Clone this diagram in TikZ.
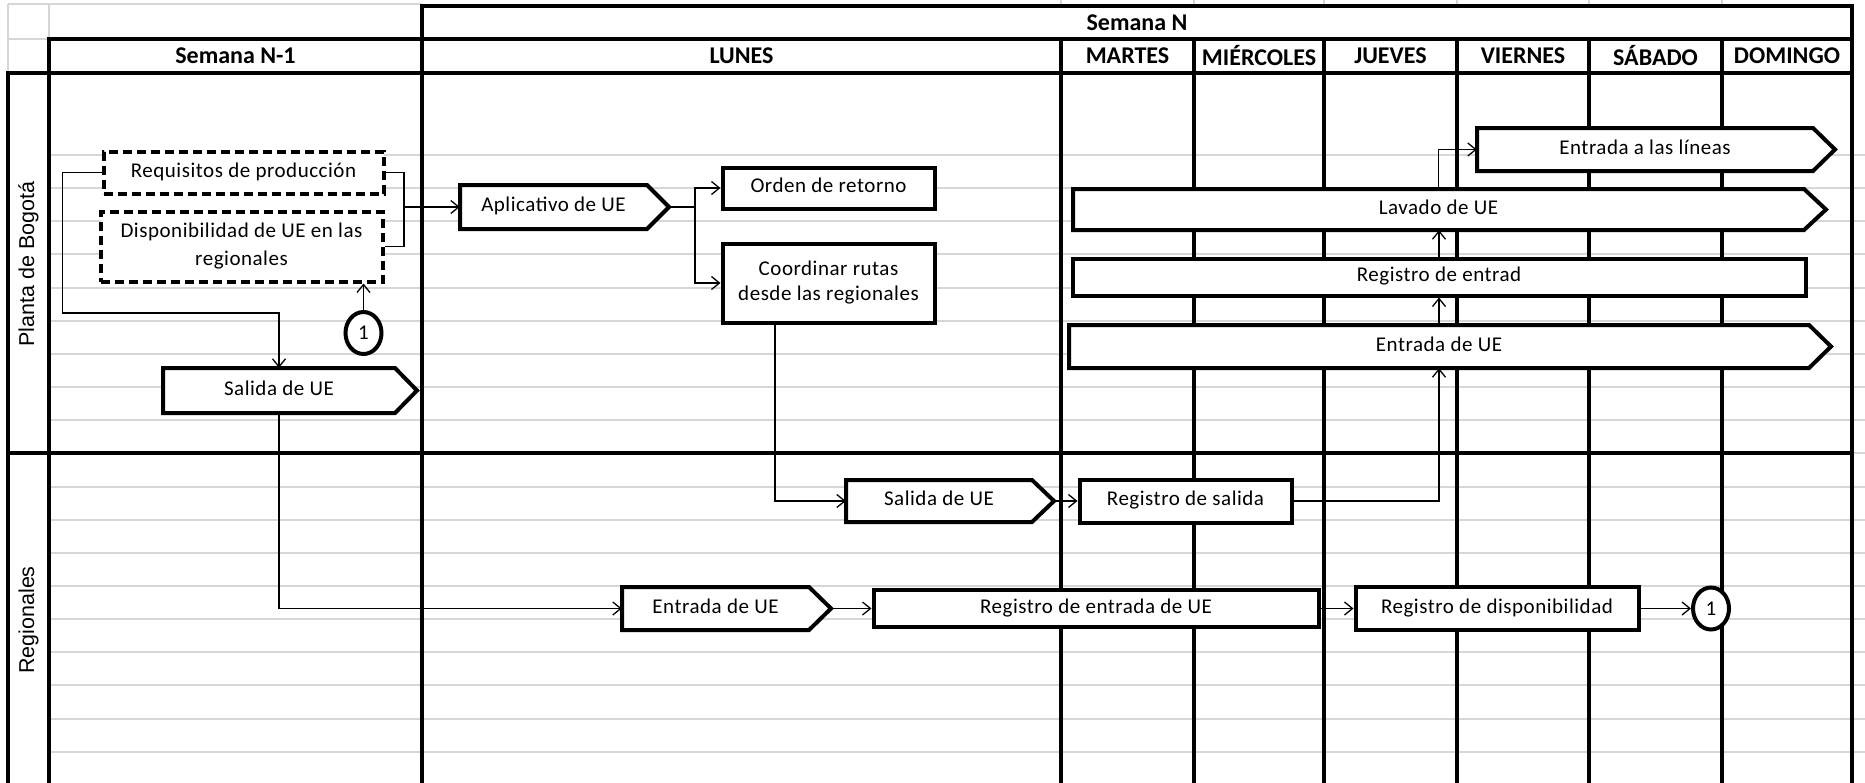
\documentclass[tikz,border=0pt]{standalone}
\usepackage{fontspec}
\setmainfont{Carlito}
\newfontfamily\boxfam{Carlito}[LetterSpace=2.5]
\newfontfamily\lanefam{Liberation Sans}
\usetikzlibrary{arrows.meta,shapes.geometric,calc}
\definecolor{gridgray}{HTML}{D6D6D6}
\newcommand\boxfont{\boxfam\fontsize{21}{25}\selectfont}
\tikzset{
  grayline/.style={draw=gridgray, line width=2pt},
  blackline/.style={draw=black, line width=3.3pt, line cap=rect},
  hdr/.style={font=\fontsize{24}{28}\selectfont\bfseries, inner sep=0pt},
  lane/.style={font=\lanefam\fontsize{21.5}{25}\selectfont, rotate=90, inner sep=0pt},
  outline/.style={draw=black, line width=4pt, fill=white, line join=miter},
  box/.style={draw=black, line width=4pt, fill=white, inner sep=0pt, align=center, font=\boxfont},
  oneline/.style={text height=14pt, text depth=5pt},
  dbox/.style={box, dash pattern=on 9pt off 5pt},
  txt/.style={inner sep=0pt, align=center, font=\boxfont, oneline},
  conn/.style={draw=black, line width=1.3pt},
  arr/.style={conn, -{Straight Barb[length=8pt,width=13pt,line width=1.3pt]}},
  circ/.style={ellipse, draw=black, line width=4pt, fill=white, minimum width=36pt, minimum height=42pt, inner sep=0pt, font=\boxfont},
}
% pentagon (process arrow) box: name, x1, y1, x body end, y2, text
\newcommand\pentbox[6]{%
  \path[outline] (#2,#3) -- (#4,#3) -- ({#4+22},{(#3+#5)/2}) -- (#4,#5) -- (#2,#5) -- cycle;
  \node[txt, minimum width={(#4-#2)*1pt}, minimum height={(#5-#3)*1pt}] (#1) at ({(#2+#4)/2},{(#3+#5)/2}) {#6};
  \coordinate (#1-tip) at ({#4+22},{(#3+#5)/2});
}
\begin{document}
\begin{tikzpicture}[x=1pt,y=-1pt]
\useasboundingbox (0,0) rectangle (1865,782);
\fill[white] (0,0) rectangle (1865,782);
% light grid
\foreach \k in {0,...,18} \draw[grayline] (49,{155+\k*33.15}) -- (1865,{155+\k*33.15});
\draw[grayline] (8,4.3) -- (422,4.3);
\draw[grayline] (8,39) -- (49,39);
\draw[grayline] (8,4.3) -- (8,73);
\draw[grayline] (49,4.3) -- (49,39);
\foreach \x in {1061,1194,1324,1457,1589,1722} \draw[grayline] (\x,0) -- (\x,6);
% black table lines
\draw[blackline] (422,6) -- (1852,6);
\draw[blackline] (49,39) -- (1852,39);
\draw[blackline] (8,73) -- (1852,73);
\draw[blackline] (8,453) -- (1852,453);
\draw[blackline] (8,73) -- (8,782);
\draw[blackline] (49,39) -- (49,782);
\draw[blackline] (422,6) -- (422,782);
\draw[blackline] (1852,6) -- (1852,782);
\foreach \x in {1061,1194,1324,1457,1589,1722} \draw[blackline] (\x,39) -- (\x,782);
% headers
\node[hdr] (hsn) at (1137,22.5) {Semana N};
\node[hdr] (hsn1) at (235.5,56) {Semana N-1};
\node[hdr] (hlun) at (741.5,56) {LUNES};
\node[hdr] (hmar) at (1127.5,56) {MARTES};
\node[hdr] (hmie) at (1259,56) {MIÉRCOLES};
\node[hdr] (hjue) at (1390.5,56) {JUEVES};
\node[hdr] (hvie) at (1523,56) {VIERNES};
\node[hdr] (hsab) at (1655.5,56) {SÁBADO};
\node[hdr] (hdom) at (1787,56) {DOMINGO};
% lanes
\node[lane] (lbog) at (28.5,264) {Planta de Bogotá};
\node[lane] (lreg) at (28.5,620) {Regionales};
% Bogota lane
\node[dbox, oneline, minimum width=280pt, minimum height=42pt] (req) at (243.5,172.5) {Requisitos de producción};
\node[dbox, minimum width=282pt, minimum height=70pt] (disp) at (241.5,246.5) {Disponibilidad de UE en las\\[3pt]regionales};
\node[circ] (c1) at (363.5,333) {1};
\pentbox{sal1}{163}{368}{395}{413}{Salida de UE}
\pentbox{apl}{460}{185}{647}{229}{Aplicativo de UE}
\node[box, oneline, minimum width=212pt, minimum height=41pt] (ord) at (828.5,188) {Orden de retorno};
\node[box, minimum width=212pt, minimum height=79pt] (coord) at (828.5,283) {Coordinar rutas\\[0pt]desde las regionales};
\pentbox{entl}{1477}{128}{1813}{171}{Entrada a las líneas}
\pentbox{lav}{1073}{189}{1804}{230}{Lavado de UE}
\node[box, oneline, minimum width=733pt, minimum height=37pt] (regent) at (1439,277) {Registro de entrad};
\pentbox{entb}{1069}{325}{1809}{368}{Entrada de UE}
% Regionales lane
\pentbox{sal2}{846}{480}{1032}{522}{Salida de UE}
\node[box, oneline, minimum width=212pt, minimum height=43pt] (regsal) at (1185.5,501) {Registro de salida};
\pentbox{entr}{622}{587}{809}{630}{Entrada de UE}
\node[box, oneline, minimum width=445pt, minimum height=37pt] (regentr) at (1096,608.5) {Registro de entrada de UE};
\node[box, oneline, minimum width=283pt, minimum height=43pt] (regdisp) at (1497,608.5) {Registro de disponibilidad};
\node[circ] (c2) at (1711,608.5) {1};
% connectors
\coordinate (b1) at (62.5,313);
\coordinate (j1) at (404,207);
\coordinate (j2) at (695,207);
\draw[arr] (req.west) -| (b1) -| (sal1.north);
\draw[arr] (sal1.south) |- (entr.west);
\draw[arr] (c1.north) -- (c1.north |- disp.south);
\draw[conn] (req.east) -| (j1) |- (disp.east);
\draw[arr] (j1) -- (apl.west);
\draw[conn] (apl-tip) -- (j2);
\draw[arr] (j2) |- (ord.west);
\draw[arr] (j2) |- (coord.west);
\draw[arr] ([xshift=-53.5pt]coord.south) |- (sal2.west);
\draw[arr] (sal2-tip) -- (regsal.west);
\draw[arr] (regsal.east) -| (entb.south);
\draw[arr] (entb.north) -- (entb.north |- regent.south);
\draw[arr] (regent.north) -- (regent.north |- lav.south);
\draw[arr] (lav.north) |- (entl.west);
\draw[arr] (entr-tip) -- (regentr.west);
\draw[arr] (regentr.east) -- (regdisp.west);
\draw[arr] (regdisp.east) -- (c2.west);
\end{tikzpicture}
\end{document}
